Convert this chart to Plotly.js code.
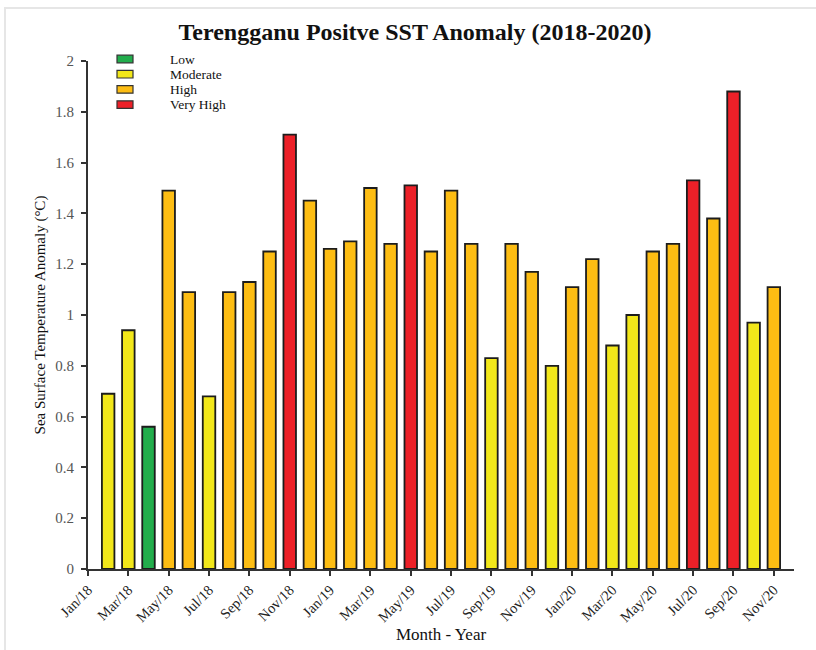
<!DOCTYPE html>
<html>
<head>
<meta charset="utf-8">
<script src="https://cdn.plot.ly/plotly-3.0.1.min.js"></script>
<style>
  html, body { margin: 0; padding: 0; background: #ffffff; }
  #wrap { position: relative; width: 816px; height: 650px; overflow: hidden; }
  #chart { position: absolute; left: 0; top: 0; width: 816px; height: 650px; }
  #frame { position: absolute; left: 4px; top: 7px; width: 830px; height: 660px;
           border-top: 2px solid #e6e6e6; border-left: 2px solid #e6e6e6; pointer-events: none; }
</style>
</head>
<body>
<div id="wrap">
  <div id="chart"></div>
  <div id="frame"></div>
</div>
<script>
// ---- data ----
const months = ['Jan/18','Feb/18','Mar/18','Apr/18','May/18','Jun/18','Jul/18','Aug/18','Sep/18','Oct/18','Nov/18','Dec/18',
                'Jan/19','Feb/19','Mar/19','Apr/19','May/19','Jun/19','Jul/19','Aug/19','Sep/19','Oct/19','Nov/19','Dec/19',
                'Jan/20','Feb/20','Mar/20','Apr/20','May/20','Jun/20','Jul/20','Aug/20','Sep/20','Oct/20','Nov/20','Dec/20'];
const anomaly = [null, 0.69, 0.94, 0.56, 1.49, 1.09, 0.68, 1.09, 1.13, 1.25, 1.71, 1.45,
                 1.26, 1.29, 1.50, 1.28, 1.51, 1.25, 1.49, 1.28, 0.83, 1.28, 1.17, 0.80,
                 1.11, 1.22, 0.88, 1.00, 1.25, 1.28, 1.53, 1.38, 1.88, 0.97, 1.11, null];
const levels = [null,'Moderate','Moderate','Low','High','High','Moderate','High','High','High','Very High','High',
                'High','High','High','High','Very High','High','High','High','Moderate','High','High','Moderate',
                'High','High','Moderate','Moderate','High','High','Very High','High','Very High','Moderate','High',null];
const levelNames = ['Low','Moderate','High','Very High'];
const levelColors = ['#22ad4c','#f2e71a','#fdbd13','#ec2028'];
const tickLabels = ['Jan/18','Mar/18','May/18','Jul/18','Sep/18','Nov/18','Jan/19','Mar/19','May/19','Jul/19','Sep/19','Nov/19',
                    'Jan/20','Mar/20','May/20','Jul/20','Sep/20','Nov/20'];

const serif = '"Liberation Serif", "Times New Roman", Times, serif';

// ---- traces: one per level ----
const traces = levelNames.map((name, k) => {
  const xs = [], ys = [];
  months.forEach((m, i) => { if (levels[i] === name) { xs.push(m); ys.push(anomaly[i]); } });
  return {
    type: 'bar', name: name, x: xs, y: ys, width: 0.62, showlegend: false,
    marker: { color: levelColors[k], line: { color: '#1c1c1c', width: 1.8 } },
    hovertemplate: '%{x}: %{y:.2f} °C<extra>' + name + '</extra>'
  };
});

// ---- layout geometry ----
const M = { l: 88, r: 22, t: 61, b: 81 };
const W = 816, H = 650;
const pw = W - M.l - M.r, ph = H - M.t - M.b;
const px = v => (v - M.l) / pw;          // pixel -> paper x
const py = v => (H - M.b - v) / ph;      // pixel -> paper y

// manual legend (compact, like the reference)
const legShapes = [], legAnn = [];
const legTop = 59, legStep = 15.2;
levelNames.forEach((name, k) => {
  const cy = legTop + k * legStep;
  legShapes.push({ type: 'rect', xref: 'paper', yref: 'paper',
    x0: px(117), x1: px(133), y0: py(cy + 3.8), y1: py(cy - 3.8),
    fillcolor: levelColors[k], line: { color: '#333333', width: 1.2 } });
  legAnn.push({ xref: 'paper', yref: 'paper', x: px(169), y: py(cy), xanchor: 'left', yanchor: 'middle',
    text: name, showarrow: false, borderpad: 0, font: { family: serif, size: 13.5, color: '#111' } });
});

const layout = {
  width: W, height: H, margin: M,
  paper_bgcolor: '#ffffff', plot_bgcolor: '#ffffff',
  barmode: 'overlay', showlegend: false,
  title: { text: '<b>Terengganu Positve SST Anomaly (2018-2020)</b>', xref: 'container', yref: 'container',
           x: 415 / W, y: 1 - 32 / H, xanchor: 'center', yanchor: 'middle',
           font: { family: serif, size: 24, color: '#111' } },
  xaxis: {
    type: 'category', categoryorder: 'array', categoryarray: months,
    range: [0, 35], tickmode: 'array', tickvals: tickLabels, ticktext: tickLabels,
    tickangle: -45, ticks: 'outside', ticklen: 5, tickwidth: 1.5, tickcolor: '#333',
    showline: true, linecolor: '#333', linewidth: 1.8, showgrid: false, zeroline: false,
    tickfont: { family: serif, size: 14.5, color: '#222' },
    title: { text: 'Month - Year', font: { family: serif, size: 17, color: '#111' }, standoff: 0 },
    automargin: false, fixedrange: true
  },
  yaxis: {
    range: [0, 2], dtick: 0.2, tick0: 0, ticks: 'outside', ticklen: 5, tickwidth: 1.5, tickcolor: '#333',
    showline: true, linecolor: '#333', linewidth: 1.8, showgrid: false, zeroline: false,
    tickfont: { family: serif, size: 15, color: '#555' }, ticklabelstandoff: 4,
    title: { text: 'Sea Surface Temperature Anomaly (°C)', font: { family: serif, size: 15, color: '#111' }, standoff: 6 },
    automargin: false, fixedrange: true
  },
  shapes: legShapes,
  annotations: legAnn
};

Plotly.newPlot('chart', traces, layout, { displayModeBar: false, staticPlot: false });
</script>
</body>
</html>
